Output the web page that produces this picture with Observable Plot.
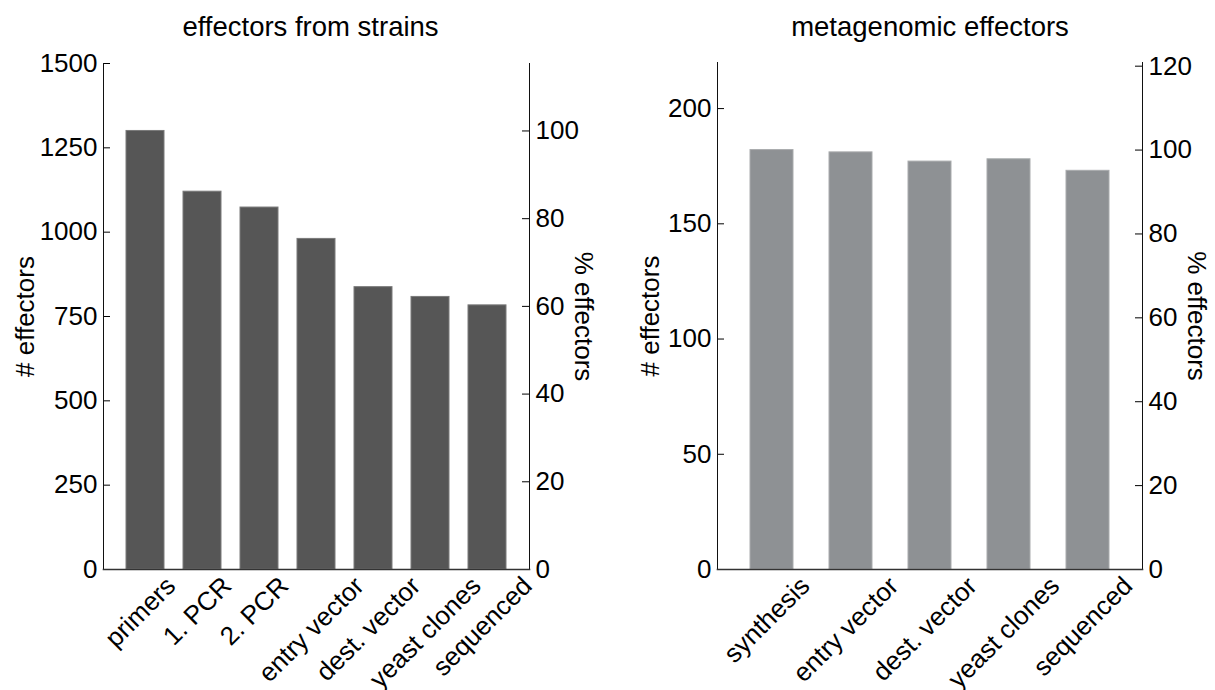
<!DOCTYPE html>
<html><head><meta charset="utf-8">
<script src="https://cdn.jsdelivr.net/npm/d3@7"></script>
<script src="https://cdn.jsdelivr.net/npm/@observablehq/plot@0.6"></script>
<style>
html,body{margin:0;padding:0;background:#fff;overflow:hidden;}
#wrap{position:relative;width:1215px;height:690px;overflow:hidden;}
#wrap > .panel{position:absolute;top:0;}
</style></head><body><div id="wrap"></div>
<script>
// ---- data ----
const strainSteps = ["primers", "1. PCR", "2. PCR", "entry vector", "dest. vector", "yeast clones", "sequenced"];
const strainCounts = [1300, 1120, 1073, 980, 837, 808, 783];
const metaSteps = ["synthesis", "entry vector", "dest. vector", "yeast clones", "sequenced"];
const metaCounts = [182, 181, 177, 178, 173];
const strainCountTicks = [0, 250, 500, 750, 1000, 1250, 1500];
const metaCountTicks = [0, 50, 100, 150, 200];
const strainPctTicks = [0, 20, 40, 60, 80, 100];
const metaPctTicks = [0, 20, 40, 60, 80, 100, 120];
const panelTitles = ["effectors from strains", "metagenomic effectors"];
const leftLabel = "# effectors";
const rightLabel = "% effectors";

const FONT = "Liberation Sans, Arial, Helvetica, sans-serif";
const ctx = document.createElement("canvas").getContext("2d");
function textWidth(s, size) { ctx.font = `${size}px "Liberation Sans", Arial, sans-serif`; return ctx.measureText(s).width; }

function panel(o) {
  const data = o.steps.map((s, i) => ({step: s, count: o.counts[i]}));
  const base = o.counts[0];
  const fw = o.width - o.marginLeft - o.marginRight;
  const xFont = 26;
  const labelMarks = o.steps.map(s => {
    const L = textWidth(s, xFont);
    const off = (L + xFont) * Math.SQRT1_2 / 2 + 3;
    return Plot.text([s], {x: d => d, text: d => d, frameAnchor: "bottom", rotate: -45,
      textAnchor: "middle", lineAnchor: "middle", dx: -5, dy: off, fontSize: xFont, fill: "#000"});
  });
  const pctVals = o.pctTicks.map(p => p * base / 100);
  return Plot.plot({
    width: o.width, height: 690,
    marginLeft: o.marginLeft, marginRight: o.marginRight, marginTop: o.marginTop, marginBottom: 121,
    style: {fontFamily: FONT, fontSize: "26px", color: "#000", background: "transparent", overflow: "visible"},
    x: {domain: o.steps, paddingInner: o.pIn, paddingOuter: o.pOut, axis: null},
    y: {domain: [0, o.yMax], axis: null},
    marks: [
      Plot.barY(data, {x: "step", y: "count", fill: o.fill, stroke: o.stroke, strokeWidth: 1}),
      Plot.tickY(o.countTicks, {y: d => d, insetRight: fw - 7, stroke: "#000", strokeWidth: 1}),
      Plot.tickY(pctVals, {y: d => d, insetLeft: fw - 7, stroke: "#000", strokeWidth: 1}),
      Plot.axisY(o.countTicks, {anchor: "left", tickSize: 0, tickPadding: 6, fontSize: 26, label: null, tickFormat: d => String(d)}),
      Plot.axisY(pctVals, {anchor: "right", tickSize: 0, tickPadding: 6, fontSize: 26, label: null, tickFormat: d => String(Math.round(d / base * 100))}),
      Plot.frame({anchor: "left", stroke: "#111", strokeWidth: 1}),
      Plot.frame({anchor: "right", stroke: "#111", strokeWidth: 1}),
      Plot.frame({anchor: "bottom", stroke: "#333", strokeWidth: 1.6}),
      ...labelMarks,
      Plot.text([leftLabel], {text: d => d, frameAnchor: "left", dx: -o.leftLabelOff, rotate: -90, fontSize: 26, fill: "#000", textAnchor: "middle", lineAnchor: "middle"}),
      Plot.text([rightLabel], {text: d => d, frameAnchor: "right", dx: o.rightLabelOff, rotate: 90, fontSize: 26, fill: "#000", textAnchor: "middle", lineAnchor: "middle"}),
      Plot.text([o.title], {text: d => d, frameAnchor: "top", dx: o.titleDx, dy: 27 - o.marginTop, fontSize: 27.5, fill: "#000", textAnchor: "middle", lineAnchor: "middle"})
    ]
  });
}

const wrap = document.getElementById("wrap");
const p1 = panel({steps: strainSteps, counts: strainCounts, yMax: 1500, countTicks: strainCountTicks, pctTicks: strainPctTicks,
  title: panelTitles[0], fill: "#565656", stroke: "#7a7a7a", width: 608, marginLeft: 103, marginRight: 79, marginTop: 63,
  pIn: 0.34, pOut: 0.345, leftLabelOff: 78, rightLabelOff: 54, titleDx: -6});
const p2 = panel({steps: metaSteps, counts: metaCounts, yMax: 220, countTicks: metaCountTicks, pctTicks: metaPctTicks,
  title: panelTitles[1], fill: "#8e9194", stroke: "#a9abad", width: 608, marginLeft: 110, marginRight: 73, marginTop: 62,
  pIn: 0.46, pOut: 0.4, leftLabelOff: 67, rightLabelOff: 54, titleDx: 0});
p1.classList.add("panel"); p1.style.left = "0px";
p2.classList.add("panel"); p2.style.left = "607px";
wrap.appendChild(p1); wrap.appendChild(p2);
</script></body></html>
